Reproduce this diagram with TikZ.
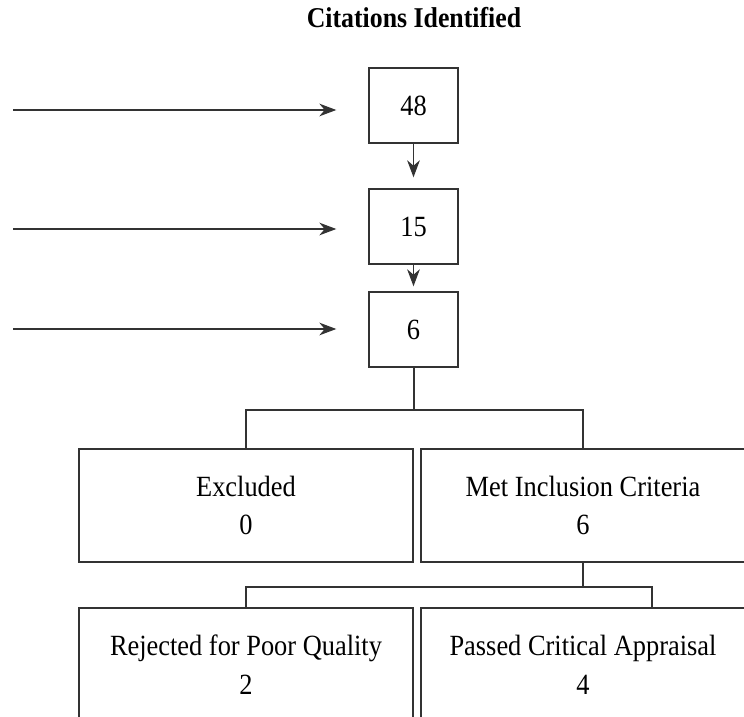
\documentclass[tikz,border=0pt]{standalone}
\usepackage{fontspec}
\setmainfont[FakeStretch = 0.9]{Liberation Serif}
\usetikzlibrary{arrows.meta}

\begin{document}
\begin{tikzpicture}[x = 0.75pt, y = -0.75pt, font = \fontsize{22}{29}\selectfont]
	\tikzstyle{lineStyle} = [draw = black!80, line width = 1pt]
	\tikzstyle{countStyle} = [lineStyle, shape = rectangle, minimum width = 66.75pt, minimum height = 56.25pt, inner sep = 0pt]
	\tikzstyle{leftStyle} = [lineStyle, shape = rectangle, minimum width = 250.5pt, minimum height = 84.75pt, inner sep = 0pt, align = center]
	\tikzstyle{rightStyle} = [leftStyle, minimum width = 243pt]
	\tikzstyle{feedStyle} = [lineStyle, -{Stealth[length = 12.75pt, width = 9.5pt, inset = 4pt]}]
	\clip (0, 0) rectangle (744, 717);
	\node[font = \fontsize{21.5}{24}\selectfont\bfseries, anchor = base] (title) at (414, 28) {Citations Identified};
	\node[countStyle] (box48) at (413.5, 105.5) {48};
	\node[countStyle] (box15) at (413.5, 226.5) {15};
	\node[countStyle] (box6) at (413.5, 329.5) {6};
	\node[leftStyle] (excl) at (246, 505.5) {Excluded\\0};
	\node[rightStyle] (met) at (583, 505.5) {Met Inclusion Criteria\\6};
	\node[leftStyle] (rej) at (246, 664.5) {Rejected for Poor Quality\\2};
	\node[rightStyle] (pass) at (583, 664.5) {Passed Critical Appraisal\\4};
	\coordinate (in48) at (13, 110);
	\coordinate (in15) at (13, 229);
	\coordinate (in6) at (13, 329);
	\coordinate (split1) at (413.5, 410);
	\coordinate (split2) at (583, 587);
	\coordinate (passin) at (652, 608);
	% inputs from the left
	\draw[feedStyle, shorten > = 24pt] (in48) -- (in48 -| box48.west);
	\draw[feedStyle, shorten > = 24pt] (in15) -- (in15 -| box15.west);
	\draw[feedStyle, shorten > = 24pt] (in6) -- (in6 -| box6.west);
	% main column
	\draw[feedStyle, shorten > = 8.25pt] (box48) -- (box15);
	\draw[feedStyle, shorten > = 3.75pt] (box15) -- (box6);
	% splits
	\draw[lineStyle, line width = 1.5pt] (box6) -- (split1);
	\draw[lineStyle] (excl.north) |- (split1) -| (met.north);
	\draw[lineStyle] (met) -- (split2);
	\draw[lineStyle] (rej.north) |- (split2) -| (passin);
\end{tikzpicture}
\end{document}
